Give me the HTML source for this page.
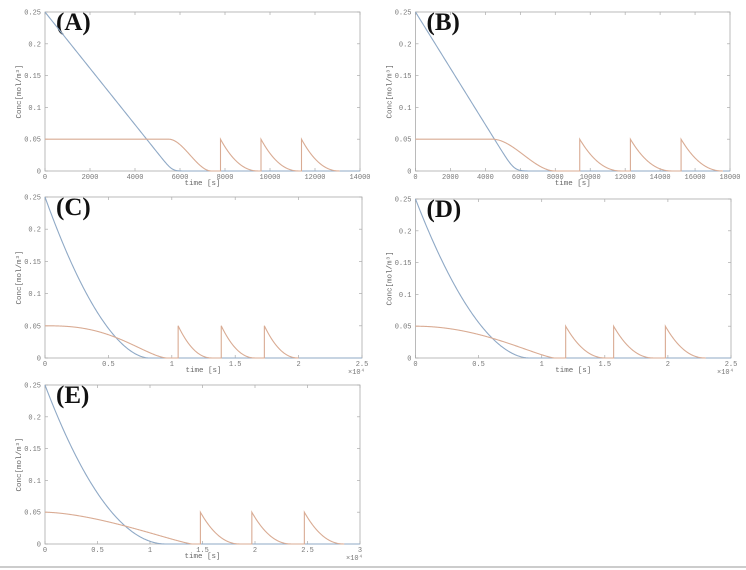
<!DOCTYPE html>
<html><head><meta charset="utf-8"><style>
html,body{margin:0;padding:0;background:#fff;width:746px;height:570px;overflow:hidden}
svg{display:block}
.t{font-family:"Liberation Mono",monospace;font-size:7px;fill:#777}
.l{font-family:"Liberation Mono",monospace;font-size:7.5px;fill:#666}
.p{font-family:"Liberation Serif",serif;font-weight:bold;font-size:25px;fill:#111}
</style></head><body>
<svg id="s" width="746" height="570" xmlns="http://www.w3.org/2000/svg">
<line x1="0" y1="567" x2="746" y2="567" stroke="#999" stroke-width="1"/>
</svg>
<script>
const S=document.getElementById('s');const NS='http://www.w3.org/2000/svg';
function el(n,a,txt){const e=document.createElementNS(NS,n);for(const k in a)e.setAttribute(k,a[k]);if(txt!==undefined)e.textContent=txt;S.appendChild(e);return e;}
function smooth(s){s=Math.max(0,Math.min(1,s));return s*s*(3-2*s);}
function soft(v,k){return k*Math.log(1+Math.exp(v/k));}
const panels=[
 {L:'A',x0:45,x1:360,y0:12,y1:171,xmax:14000,xt:[0,2000,4000,6000,8000,10000,12000,14000],xl:null,
  blue:t=>Math.max(0,soft(0.25-0.25*t/5650,0.005)-0.0001),
  or:t=>t<5500?0.05:(t<7400?0.05*(1-smooth((t-5500)/1900)):0),pulses:[7800,9600,11400],dec:1700},
 {L:'B',x0:415.5,x1:730,y0:12,y1:171,xmax:18000,xt:[0,2000,4000,6000,8000,10000,12000,14000,16000,18000],xl:null,
  blue:t=>Math.max(0,soft(0.25-0.25*t/5650,0.008)-0.0001),
  or:t=>t<4400?0.05:(t<8000?0.05*(1-smooth((t-4400)/3600)):0),pulses:[9400,12300,15200],dec:2400},
 {L:'C',x0:45,x1:362,y0:197,y1:358,xmax:25000,xt:[0,5000,10000,15000,20000,25000],xl:['0','0.5','1','1.5','2','2.5'],
  blue:t=>t<8200?0.25*Math.pow(1-t/8200,1.8):0,
  or:t=>{const s=t/9600;return s<1?0.05*Math.pow(1-Math.pow(s,2.6),1.6):0},pulses:[10500,13900,17300],dec:2700},
 {L:'D',x0:415.5,x1:731,y0:199,y1:358,xmax:25000,xt:[0,5000,10000,15000,20000,25000],xl:['0','0.5','1','1.5','2','2.5'],
  blue:t=>t<9000?0.25*Math.pow(1-t/9000,1.85):0,
  or:t=>{const s=t/11000;return s<1?0.05*Math.pow(1-Math.pow(s,2),1.3):0},pulses:[11900,15700,19800],dec:3200},
 {L:'E',x0:45,x1:360,y0:385,y1:544,xmax:30000,xt:[0,5000,10000,15000,20000,25000,30000],xl:['0','0.5','1','1.5','2','2.5','3'],
  blue:t=>t<11500?0.25*Math.pow(1-t/11500,2):0,
  or:t=>{const s=t/14000;return s<1?0.05*Math.pow(1-Math.pow(s,1.6),1.2):0},pulses:[14800,19700,24700],dec:3800}
];
panels.forEach(p=>{
 const X=t=>p.x0+(p.x1-p.x0)*t/p.xmax, Y=v=>p.y1-(p.y1-p.y0)*v/0.25;
 el('rect',{x:p.x0,y:p.y0,width:p.x1-p.x0,height:p.y1-p.y0,fill:'none',stroke:'#aaa','stroke-width':0.8});
 [0,0.05,0.1,0.15,0.2,0.25].forEach((v,i)=>{const y=Y(v);
  el('line',{x1:p.x0,y1:y,x2:p.x0+3,y2:y,stroke:'#aaa','stroke-width':0.7});
  el('line',{x1:p.x1,y1:y,x2:p.x1-3,y2:y,stroke:'#aaa','stroke-width':0.7});
  el('text',{x:p.x0-4,y:y+2.5,class:'t','text-anchor':'end'},['0','0.05','0.1','0.15','0.2','0.25'][i]);});
 p.xt.forEach((t,i)=>{const x=X(t);
  el('line',{x1:x,y1:p.y1,x2:x,y2:p.y1-3,stroke:'#aaa','stroke-width':0.7});
  el('line',{x1:x,y1:p.y0,x2:x,y2:p.y0+3,stroke:'#aaa','stroke-width':0.7});
  el('text',{x:x,y:p.y1+8,class:'t','text-anchor':'middle'},p.xl?p.xl[i]:String(t));});
 el('text',{x:(p.x0+p.x1)/2,y:p.y1+14,class:'l','text-anchor':'middle'},'time [s]');
 if(p.xl)el('text',{x:p.x1-14,y:p.y1+16,class:'t'},'×10⁴');
 const yl=(p.y0+p.y1)/2, xl=p.x0-24;
 el('text',{x:xl,y:yl,class:'l','text-anchor':'middle',transform:`rotate(-90 ${xl} ${yl})`},'Conc[mol/m³]');
 el('text',{x:p.x0+11,y:p.y0+18,class:'p'},'('+p.L+')');
 let d='';for(let i=0;i<=400;i++){const t=p.xmax*i/400;d+=(i?'L':'M')+X(t).toFixed(2)+','+Y(p.blue(t)).toFixed(2);}
 el('path',{d:d,fill:'none',stroke:'#8fa9c6','stroke-width':1.1});
 let o='';for(let i=0;i<=400;i++){const t=p.pulses[0]*i/400;o+=(i?'L':'M')+X(t).toFixed(2)+','+Y(p.or(t)).toFixed(2);}
 p.pulses.forEach((t0,k)=>{o+='L'+X(t0).toFixed(2)+','+Y(0).toFixed(2)+'L'+X(t0).toFixed(2)+','+Y(0.05).toFixed(2);
  for(let i=1;i<=60;i++){const s=i/60;const t=t0+p.dec*s;o+='L'+X(t).toFixed(2)+','+Y(0.05*Math.pow(1-s,2.2)).toFixed(2);}
  const nx=k<p.pulses.length-1?p.pulses[k+1]:t0+p.dec;o+='L'+X(nx).toFixed(2)+','+Y(0).toFixed(2);});
 el('path',{d:o,fill:'none',stroke:'#d9ab93','stroke-width':1.1});
});
</script>
</body></html>
